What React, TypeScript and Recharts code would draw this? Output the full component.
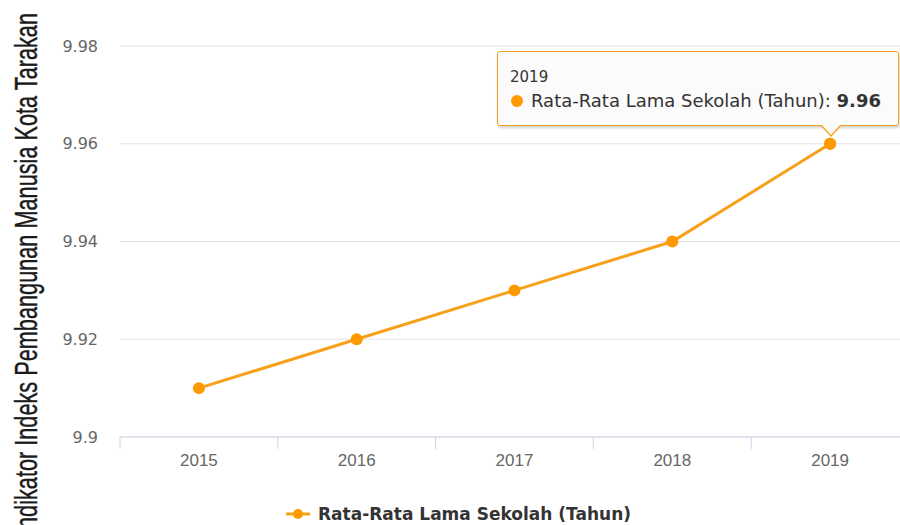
import { LineChart, Line, XAxis, YAxis, CartesianGrid, Tooltip, Legend } from 'recharts';

// data
const years = ['2015', '2016', '2017', '2018', '2019'];
const rataLamaSekolah = [9.91, 9.92, 9.93, 9.94, 9.96];
const yTicks = [9.9, 9.92, 9.94, 9.96, 9.98];
const seriesName = 'Rata-Rata Lama Sekolah (Tahun)';
const yTitle = 'Indikator Indeks Pembangunan Manusia Kota Tarakan';

const data = years.map((year, i) => ({ year, value: rataLamaSekolah[i] }));

const LINE = '#f7a11a';
const DOT = '#ff9900';
const CHART_W = 910;
const PLOT_LEFT = 120;
const PLOT_RIGHT = 909;
const HALF_BAND = (PLOT_RIGHT - PLOT_LEFT) / years.length / 2;
const X_TICK_SIZE = 12;
const X_TICK_MARGIN = 6;

function XTick(props: any) {
  const { x, y, payload } = props;
  const axisY = y - X_TICK_SIZE - X_TICK_MARGIN;
  return (
    <g>
      <line x1={x - HALF_BAND} y1={axisY} x2={x - HALF_BAND} y2={axisY + X_TICK_SIZE} stroke="#ccd6eb" />
      <text
        x={x}
        y={y - 1}
        dy="0.71em"
        textAnchor="middle"
        fill="#666"
        fontSize={17}
        fontFamily="'Liberation Sans', Arial, sans-serif"
      >
        {payload.value}
      </text>
    </g>
  );
}

function YTitle() {
  return (
    <text
      x={37}
      y={274}
      transform="rotate(-90 37 274)"
      textAnchor="middle"
      fill="#1a1a1a"
      stroke="#1a1a1a"
      strokeWidth={0.4}
      fontSize={31}
      fontFamily="'Liberation Sans', Arial, sans-serif"
      textLength={522}
      lengthAdjust="spacingAndGlyphs"
    >
      {yTitle}
    </text>
  );
}

function TipBox({ payload, label }: any) {
  if (!payload || !payload.length) return null;
  const v = payload[0].value;
  return (
    <div
      style={{
        position: 'relative',
        width: 402,
        height: 75,
        boxSizing: 'border-box',
        background: 'rgba(251,251,251,0.96)',
        border: `1px solid ${LINE}`,
        borderRadius: 3,
        boxShadow: '1px 2px 3px rgba(0,0,0,0.18)',
        fontFamily: "'DejaVu Sans', Verdana, sans-serif",
        color: '#333',
      }}
    >
      <div style={{ position: 'absolute', left: 12, top: 18, fontSize: 15, lineHeight: '15px' }}>{label}</div>
      <div
        style={{
          position: 'absolute',
          left: 13,
          top: 40,
          fontSize: 18,
          lineHeight: '18px',
          whiteSpace: 'nowrap',
          display: 'flex',
          alignItems: 'center',
        }}
      >
        <span
          style={{ display: 'inline-block', width: 12, height: 12, borderRadius: 6, background: DOT, marginRight: 8 }}
        />
        <span>
          {seriesName}: <b>{v}</b>
        </span>
      </div>
      <div
        style={{
          position: 'absolute',
          left: 322,
          bottom: -12,
          width: 0,
          height: 0,
          borderLeft: '11px solid transparent',
          borderRight: '11px solid transparent',
          borderTop: `12px solid ${LINE}`,
        }}
      />
      <div
        style={{
          position: 'absolute',
          left: 323,
          bottom: -10,
          width: 0,
          height: 0,
          borderLeft: '10px solid transparent',
          borderRight: '10px solid transparent',
          borderTop: '11px solid #fbfbfb',
        }}
      />
    </div>
  );
}

function LegendBox() {
  return (
    <div
      style={{
        display: 'flex',
        alignItems: 'center',
        fontFamily: "'DejaVu Sans', Verdana, sans-serif",
        fontWeight: 'bold',
        fontSize: 17,
        lineHeight: '18px',
        color: '#333',
        whiteSpace: 'nowrap',
      }}
    >
      <svg width={24} height={12} style={{ marginRight: 8 }}>
        <line x1={0} y1={6} x2={24} y2={6} stroke={LINE} strokeWidth={3} />
        <circle cx={12} cy={6} r={5} fill={DOT} />
      </svg>
      <span>{seriesName}</span>
    </div>
  );
}

export default function App() {
  return (
    <div style={{ position: 'absolute', left: 0, top: 0, width: 900, height: 525, overflow: 'hidden', background: '#fff' }}>
      <LineChart width={CHART_W} height={525} data={data} margin={{ top: 46, right: CHART_W - PLOT_RIGHT, bottom: 48, left: 0 }}>
        <CartesianGrid vertical={false} stroke="#e3e3e3" />
        <XAxis
          dataKey="year"
          height={40}
          padding={{ left: HALF_BAND, right: HALF_BAND }}
          axisLine={{ stroke: '#ccd6eb' }}
          tickLine={false}
          tickSize={X_TICK_SIZE}
          tickMargin={X_TICK_MARGIN}
          tick={<XTick />}
          interval={0}
        />
        <YAxis
          width={PLOT_LEFT}
          domain={[9.9, 9.98]}
          ticks={yTicks}
          axisLine={false}
          tickLine={false}
          tickSize={10}
          tickMargin={12}
          tick={{ fill: '#666', fontSize: 16, fontFamily: "'DejaVu Sans', Verdana, sans-serif" }}
          label={<YTitle />}
        />
        <Tooltip
          active
          defaultIndex={4}
          cursor={false}
          isAnimationActive={false}
          position={{ x: 497, y: 51 }}
          content={<TipBox />}
          wrapperStyle={{ outline: 'none' }}
        />
        <Legend
          verticalAlign="middle"
          layout="horizontal"
          content={<LegendBox />}
          wrapperStyle={{ top: 505, left: 286, width: 400, height: 18 }}
        />
        <Line
          type="linear"
          dataKey="value"
          name={seriesName}
          stroke={LINE}
          strokeWidth={3}
          dot={{ r: 6, fill: DOT, stroke: 'none' }}
          activeDot={{ r: 6, fill: DOT, stroke: 'none' }}
          isAnimationActive={false}
        />
      </LineChart>
    </div>
  );
}
